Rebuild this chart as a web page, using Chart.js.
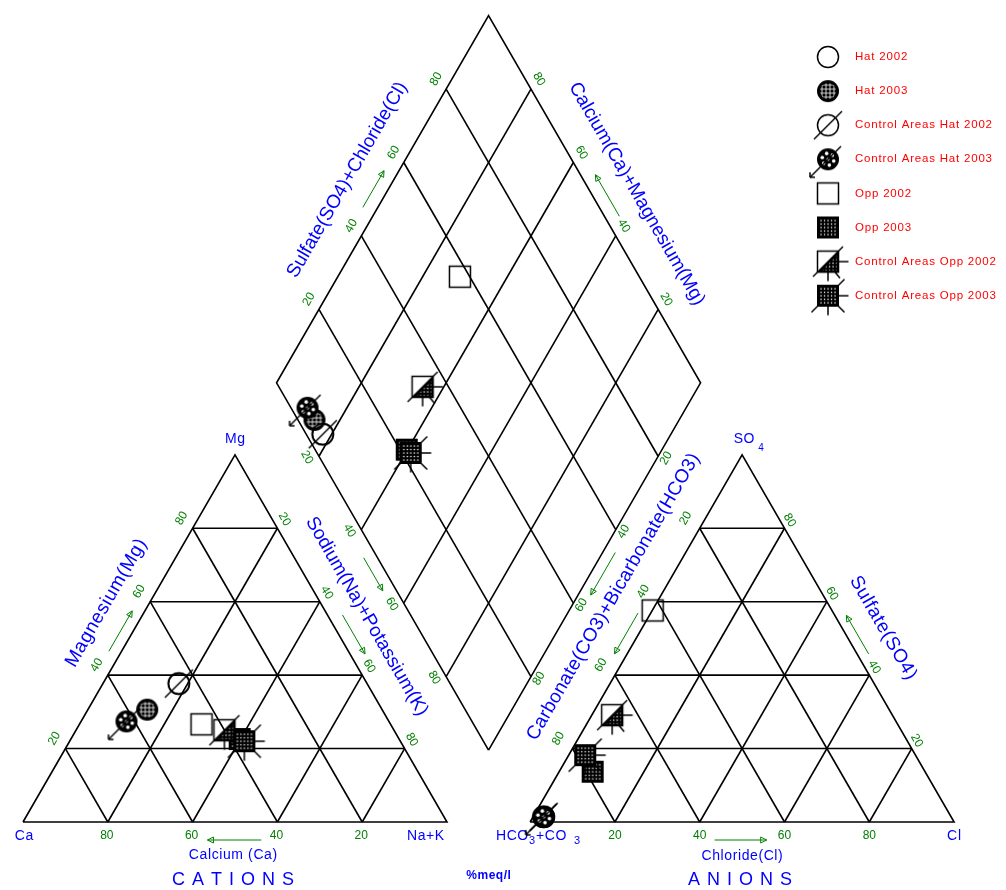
<!DOCTYPE html>
<html><head><meta charset="utf-8">
<script src="https://cdn.jsdelivr.net/npm/chart.js@4.4.1/dist/chart.umd.min.js"></script>
<style>html,body{margin:0;padding:0;background:#fff;}#wrap{width:1006px;height:890px;}</style>
</head><body><div id="wrap"><canvas id="c" width="1006" height="890"></canvas></div>
<script>
// ---------------- DATA (percent meq/l) ----------------
const seriesLabels = ['Hat 2002','Hat 2003','Control Areas Hat 2002','Control Areas Hat 2003','Opp 2002','Opp 2003','Control Areas Opp 2002','Control Areas Opp 2003'];
const magnesium       = [37.7, 30.6, 37.7, 27.4, 26.6, 22.6, 25.0, 22.0];
const sodiumPotassium = [17.9, 14.0, 17.9, 10.7, 28.8, 39.8, 35.0, 41.2];
const sulfate         = [1.4, 1.4, 1.4, 1.4, 57.6, 13.7, 29.1, 18.2];
const chloride        = [2.5, 2.5, 2.5, 2.5, 0.1, 7.9, 4.8, 3.9];
const tickValues = [20, 40, 60, 80];

// ---------------- Piper geometry (units of percent) ----------------
const H = Math.sqrt(3) / 2;
const ANION_SHIFT = 119.6, DIAMOND_CX = 109.8, DIAMOND_BASE = 19.6 * H;
function cation(mg, nak) { return { x: nak + mg / 2, y: mg * H }; }
function anion(so4, cl) { return { x: ANION_SHIFT + cl + so4 / 2, y: so4 * H }; }
function diamond(camg, so4cl) { return { x: DIAMOND_CX + (so4cl - camg) / 2, y: DIAMOND_BASE + (so4cl + camg) * H }; }

// grid segments
const segs = [];
segs.push([cation(0,0), cation(100,0), cation(0,100), cation(0,0)]);
segs.push([anion(0,0), anion(100,0), anion(0,100), anion(0,0)]);
segs.push([diamond(0,0), diamond(100,0), diamond(100,100), diamond(0,100), diamond(0,0)]);
tickValues.forEach(k => {
  segs.push([cation(k,0), cation(k,100-k)]);
  segs.push([cation(0,k), cation(100-k,k)]);
  segs.push([cation(0,100-k), cation(100-k,0)]);
  segs.push([anion(k,0), anion(k,100-k)]);
  segs.push([anion(0,k), anion(100-k,k)]);
  segs.push([anion(0,100-k), anion(100-k,0)]);
  segs.push([diamond(k,0), diamond(k,100)]);
  segs.push([diamond(0,k), diamond(100,k)]);
});

// ---------------- symbols ----------------
function mk(draw) {
  const c = document.createElement('canvas'); c.width = 46; c.height = 46;
  const g = c.getContext('2d'); g.translate(23, 23); g.lineWidth = 1.5;
  g.strokeStyle = '#000'; g.fillStyle = '#000'; draw(g); return c;
}
const R = 10.5;
function line(g, x1, y1, x2, y2) { g.beginPath(); g.moveTo(x1, y1); g.lineTo(x2, y2); g.stroke(); }
function meshFill(g, clipFn, lim) {
  g.save(); clipFn(); g.clip(); g.fillStyle = '#fff';
  for (let i = -lim; i <= lim; i += 3.5) for (let j = -lim; j <= lim; j += 3.5) g.fillRect(i - 0.6, j - 0.6, 1.3, 1.3);
  g.restore();
}
const symbols = [
  mk(g => { g.beginPath(); g.arc(0,0,R,0,2*Math.PI); g.stroke(); }),
  mk(g => { g.beginPath(); g.arc(0,0,R+0.5,0,2*Math.PI); g.fill();
    g.save(); g.beginPath(); g.arc(0,0,R-2.5,0,2*Math.PI); g.clip(); g.strokeStyle='#fff'; g.lineWidth=0.8;
    for (let k=-6;k<=6;k+=4) { line(g,k,-R,k,R); line(g,-R,k,R,k); } g.restore(); }),
  mk(g => { g.beginPath(); g.arc(0,0,R,0,2*Math.PI); g.stroke(); line(g,-14,14,14,-14); }),
  mk(g => { g.beginPath(); g.arc(0,0,R+0.5,0,2*Math.PI); g.fill(); g.fillStyle='#fff';
    for (let a=0;a<6;a++){ g.beginPath(); g.arc(6*Math.cos(a*Math.PI/3+0.3),6*Math.sin(a*Math.PI/3+0.3),1.8,0,2*Math.PI); g.fill(); }
    g.beginPath(); g.arc(0,0,1.5,0,2*Math.PI); g.fill();
    line(g,13,-13,-18,18); line(g,-18,18,-18,13); line(g,-18,18,-13,18); }),
  mk(g => { g.strokeRect(-R,-R,2*R,2*R); }),
  mk(g => { g.fillRect(-R-0.5,-R-0.5,2*R+1,2*R+1); meshFill(g, ()=>{g.beginPath(); g.rect(-R+2,-R+2,2*R-4,2*R-4);}, 7); }),
  mk(g => { g.strokeRect(-R,-R,2*R,2*R); g.beginPath(); g.moveTo(-R,R); g.lineTo(R,-R); g.lineTo(R,R); g.closePath(); g.fill();
    meshFill(g, ()=>{g.beginPath(); g.moveTo(-R+5,R-2); g.lineTo(R-2,-R+5); g.lineTo(R-2,R-2); g.closePath();}, 9);
    line(g,-15,15,15,-15); line(g,R,0,R+10,0); line(g,0,R,0,R+9); line(g,7,R,12,R+6); }),
  mk(g => { g.fillRect(-R-0.5,-R-0.5,2*R+1,2*R+1); meshFill(g, ()=>{g.beginPath(); g.rect(-R+2,-R+2,2*R-4,2*R-4);}, 7);
    line(g,R,-R,R+6,-R-6); line(g,R,0,R+10,0); line(g,R,R,R+6,R+6); line(g,0,R,0,R+9); line(g,-R,R,-R-6,R+6); })
];

// ---------------- datasets ----------------
const datasets = segs.map(s => ({ data: s, showLine: true, borderColor: '#000', borderWidth: 1.6, pointRadius: 0, order: 100, fill: false }));
seriesLabels.forEach((name, i) => {
  const camg = 100 - sodiumPotassium[i];
  const so4cl = sulfate[i] + chloride[i];
  datasets.push({
    label: name,
    data: [cation(magnesium[i], sodiumPotassium[i]), anion(sulfate[i], chloride[i]), diamond(camg, so4cl)],
    pointStyle: symbols[i], pointRadius: 11, showLine: false, order: 20 - i, isSeries: true
  });
});

// ---------------- text helpers ----------------
const BLUE = '#0000ff', GREEN = '#008000', RED = '#ff0000';
const FONT = '"Liberation Sans", Arial, sans-serif';
function drawText(ctx, s, x, y, o) {
  ctx.save(); ctx.translate(x, y); if (o.rot) ctx.rotate(o.rot * Math.PI / 180);
  ctx.font = o.font; ctx.fillStyle = o.color; ctx.textBaseline = 'middle';
  const sp = o.spacing || 0;
  const chars = [...s]; const ws = chars.map(c => ctx.measureText(c).width);
  const total = ws.reduce((a, b) => a + b, 0) + sp * (chars.length - 1);
  let cx = o.align === 'left' ? 0 : (o.align === 'right' ? -total : -total / 2);
  ctx.textAlign = 'left';
  chars.forEach((c, i) => { ctx.fillText(c, cx, 0); cx += ws[i] + sp; });
  ctx.restore();
}

const tickFont = '12px ' + FONT;
const tickGroups = [
  { pt: k => cation(0, k), txt: k => 100 - k, dx: -1, dy: 14, rot: 0 },
  { pt: k => anion(0, k), txt: k => k, dx: 0, dy: 14, rot: 0 },
  { pt: k => cation(k, 0), txt: k => k, dx: -11, dy: -10, rot: -60 },
  { pt: k => cation(k, 100 - k), txt: k => 100 - k, dx: 7, dy: -9, rot: 60 },
  { pt: k => anion(k, 0), txt: k => 100 - k, dx: -14, dy: -10, rot: -60 },
  { pt: k => anion(k, 100 - k), txt: k => k, dx: 5, dy: -8, rot: 60 },
  { pt: k => diamond(100, k), txt: k => k, dx: -10, dy: -10, rot: -60 },
  { pt: k => diamond(k, 100), txt: k => k, dx: 8, dy: -10, rot: 60 },
  { pt: k => diamond(k, 0), txt: k => 100 - k, dx: -12, dy: 1, rot: 60 },
  { pt: k => diamond(0, k), txt: k => 100 - k, dx: 8, dy: 2, rot: -60 }
];

const titleFont = '19px ' + FONT;
const titles = [
  { s: 'Magnesium(Mg)', pt: cation(56, 0), dx: -35.5, dy: -13.4, rot: -60, sp: 0.6 },
  { s: 'Sodium(Na)+Potassium(K)', pt: cation(50, 50), dx: 25.7, dy: -22, rot: 60, sp: 0 },
  { s: 'Carbonate(CO3)+Bicarbonate(HCO3)', pt: anion(50, 0), dx: -22.7, dy: -41.5, rot: -60, sp: 0.3 },
  { s: 'Sulfate(SO4)', pt: anion(50, 50), dx: 35, dy: -10.5, rot: 60, sp: 0.6 },
  { s: 'Sulfate(SO4)+Chloride(Cl)', pt: diamond(100, 50), dx: -35.2, dy: -19.4, rot: -60, sp: 0 },
  { s: 'Calcium(Ca)+Magnesium(Mg)', pt: diamond(50, 100), dx: 42.2, dy: -5.4, rot: 60, sp: 0 }
];

const arrows = [
  { P: cation(0,0), Q: cation(100,0), t0: 0.45, t1: 0.56, d: 11, C: cation(33,33) },
  { P: cation(100,0), Q: cation(0,100), t0: 0.454, t1: 0.56, d: 13, C: cation(33,33) },
  { P: cation(0,100), Q: cation(0,0), t0: 0.438, t1: 0.565, d: 18, C: cation(33,33) },
  { P: anion(0,0), Q: anion(0,100), t0: 0.435, t1: 0.558, d: 18, C: anion(33,33) },
  { P: anion(100,0), Q: anion(0,0), t0: 0.446, t1: 0.557, d: 11, C: anion(33,33) },
  { P: anion(0,100), Q: anion(100,0), t0: 0.444, t1: 0.549, d: 10, C: anion(33,33) },
  { P: diamond(100,0), Q: diamond(0,0), t0: 0.46, t1: 0.55, d: 12, C: diamond(50,50) },
  { P: diamond(0,100), Q: diamond(0,0), t0: 0.447, t1: 0.563, d: 11, C: diamond(50,50) },
  { P: diamond(100,0), Q: diamond(100,100), t0: 0.46, t1: 0.56, d: 13, C: diamond(50,50) },
  { P: diamond(0,100), Q: diamond(100,100), t0: 0.436, t1: 0.549, d: 13, C: diamond(50,50) }
];

const textPlugin = {
  id: 'piperText',
  beforeDatasetsDraw(chart) {
    const ctx = chart.ctx, xs = chart.scales.x, ys = chart.scales.y;
    const px = p => ({ x: xs.getPixelForValue(p.x), y: ys.getPixelForValue(p.y) });
    tickGroups.forEach(gp => tickValues.forEach(k => {
      const p = px(gp.pt(k));
      drawText(ctx, String(gp.txt(k)), p.x + gp.dx, p.y + gp.dy, { font: tickFont, color: GREEN, rot: gp.rot });
    }));
    titles.forEach(t => { const p = px(t.pt); drawText(ctx, t.s, p.x + t.dx, p.y + t.dy, { font: titleFont, color: BLUE, rot: t.rot, spacing: t.sp }); });
    ctx.save(); ctx.strokeStyle = GREEN; ctx.lineWidth = 1;
    arrows.forEach(a => {
      const p = px(a.P), q = px(a.Q), c = px(a.C);
      const dx = q.x - p.x, dy = q.y - p.y, L = Math.hypot(dx, dy), ux = dx / L, uy = dy / L;
      let nx = uy, ny = -ux;
      const mx = (p.x + q.x) / 2 - c.x, my = (p.y + q.y) / 2 - c.y;
      if (nx * mx + ny * my < 0) { nx = -nx; ny = -ny; }
      const s = { x: p.x + dx * a.t0 + nx * a.d, y: p.y + dy * a.t0 + ny * a.d };
      const e = { x: p.x + dx * a.t1 + nx * a.d, y: p.y + dy * a.t1 + ny * a.d };
      ctx.beginPath(); ctx.moveTo(s.x, s.y); ctx.lineTo(e.x, e.y); ctx.stroke();
      ctx.beginPath(); ctx.moveTo(e.x, e.y);
      ctx.lineTo(e.x - ux * 6 + nx * 3, e.y - uy * 6 + ny * 3);
      ctx.lineTo(e.x - ux * 6 - nx * 3, e.y - uy * 6 - ny * 3);
      ctx.closePath(); ctx.stroke();
    });
    ctx.restore();
    const vf = '14px ' + FONT;
    let p = px(cation(100, 0)); drawText(ctx, 'Mg', p.x, p.y - 16, { font: vf, color: BLUE, spacing: 0.5 });
    p = px(cation(0, 0)); drawText(ctx, 'Ca', p.x + 1, p.y + 14, { font: vf, color: BLUE, spacing: 0.5 });
    p = px(cation(0, 100)); drawText(ctx, 'Na+K', p.x - 3, p.y + 14, { font: vf, color: BLUE, align: 'right', spacing: 0.5 });
    p = px(anion(100, 0)); drawText(ctx, 'SO', p.x + 2, p.y - 16, { font: vf, color: BLUE, spacing: 0.5 });
    drawText(ctx, '4', p.x + 19, p.y - 7, { font: '10px ' + FONT, color: BLUE });
    p = px(anion(0, 100)); drawText(ctx, 'Cl', p.x, p.y + 14, { font: vf, color: BLUE, spacing: 1 });
    p = px(anion(0, 0));
    drawText(ctx, 'HCO', p.x - 34, p.y + 14, { font: vf, color: BLUE, align: 'left', spacing: 0.5 });
    drawText(ctx, '3', p.x - 1, p.y + 19, { font: '11px ' + FONT, color: BLUE, align: 'left' });
    drawText(ctx, '+CO', p.x + 6, p.y + 14, { font: vf, color: BLUE, align: 'left', spacing: 0.5 });
    drawText(ctx, '3', p.x + 44, p.y + 19, { font: '11px ' + FONT, color: BLUE, align: 'left' });
    const cm = px(cation(0, 50)), am = px(anion(0, 50));
    drawText(ctx, 'Calcium (Ca)', cm.x - 2, cm.y + 33, { font: '14px ' + FONT, color: BLUE, spacing: 0.6 });
    drawText(ctx, 'Chloride(Cl)', am.x, am.y + 34, { font: '14px ' + FONT, color: BLUE, spacing: 0.6 });
    drawText(ctx, 'CATIONS', cm.x - 2, cm.y + 58, { font: '18px ' + FONT, color: BLUE, spacing: 7 });
    drawText(ctx, 'ANIONS', am.x - 2, am.y + 58, { font: '18px ' + FONT, color: BLUE, spacing: 7 });
    const db = px({ x: DIAMOND_CX, y: 0 });
    drawText(ctx, '%meq/l', db.x, db.y + 54, { font: 'bold 12px ' + FONT, color: BLUE, spacing: 0.5 });
  },
  afterDraw(chart) {
    const ctx = chart.ctx;
    const x0 = chart.chartArea.right - 178, y0 = chart.chartArea.top + 57, step = 34.1;
    chart.data.datasets.filter(d => d.isSeries).forEach((d, i) => {
      const y = y0 + i * step, img = d.pointStyle;
      ctx.drawImage(img, x0 - img.width / 2, y - img.height / 2);
      drawText(ctx, d.label, x0 + 27, y, { font: '11.5px ' + FONT, color: RED, align: 'left', spacing: 0.8 });
    });
  }
};

const PX_PER_UNIT = 4.24, ORIGIN_X = 23, ORIGIN_Y = 822, W = 1006, HT = 890;
new Chart(document.getElementById('c'), {
  type: 'scatter',
  data: { datasets },
  options: {
    responsive: false, animation: false, events: [],
    layout: { padding: 0, autoPadding: false },
    plugins: { legend: { display: false }, tooltip: { enabled: false } },
    scales: {
      x: { type: 'linear', display: false, min: -ORIGIN_X / PX_PER_UNIT, max: (W - ORIGIN_X) / PX_PER_UNIT },
      y: { type: 'linear', display: false, min: (ORIGIN_Y - HT) / PX_PER_UNIT, max: ORIGIN_Y / PX_PER_UNIT }
    }
  },
  plugins: [textPlugin]
});
</script>
</body></html>
